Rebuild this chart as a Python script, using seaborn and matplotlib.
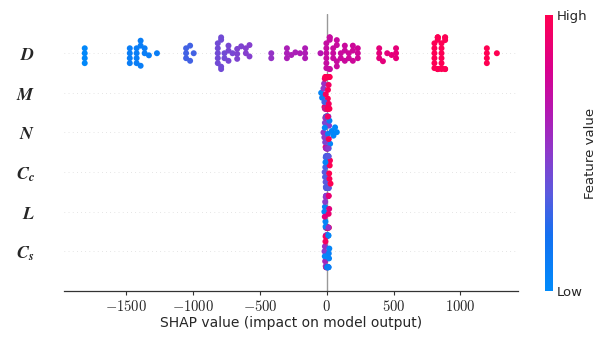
import warnings
warnings.filterwarnings("ignore")
import numpy as np
import pandas as pd
import matplotlib
matplotlib.use("Agg")
import matplotlib.pyplot as plt
from matplotlib.colors import LinearSegmentedColormap, Normalize
import matplotlib.cm as mcm
import seaborn as sns

# ---------------- data ----------------
features = ["D", "M", "N", "Cc", "L", "Cs"]
feature_labels = [r"$\mathbfit{D}$", r"$\mathbfit{M}$", r"$\mathbfit{N}$",
                  r"$\mathbfit{C}_{\mathbfit{c}}$", r"$\mathbfit{L}$", r"$\mathbfit{C}_{\mathbfit{s}}$"]
xticks = [-1500, -1000, -500, 0, 500, 1000]

# D: SHAP values of each sub-cluster, number of samples in it, normalised feature value
d_values = [-1810, -1473, -1422, -1392, -1362, -1330, -1270,
            -1052, -1022, -995,
            -815, -790, -765, -735, -705, -670, -640, -605, -578,
            -415,
            -298, -265, -235, -200, -162,
            -47,
            -3, 22, 48, 75, 105, 135, 165, 195, 232,
            392, 420, 452, 485, 518,
            805, 830, 858, 885,
            1197, 1272]
d_counts = [4, 4, 4, 3, 2, 1, 1,
            3, 2, 1,
            5, 4, 2, 3, 1, 3, 1, 2, 2,
            2,
            3, 1, 1, 1, 3,
            1,
            6, 5, 3, 4, 2, 3, 2, 3, 3,
            3, 1, 1, 1, 3,
            6, 7, 7, 5,
            4, 1]
d_feat = [0.02, 0.10, 0.10, 0.10, 0.10, 0.10, 0.10,
          0.30, 0.30, 0.30,
          0.42, 0.42, 0.42, 0.44, 0.44, 0.46, 0.46, 0.48, 0.48,
          0.53,
          0.62, 0.62, 0.62, 0.63, 0.63,
          0.66,
          0.72, 0.72, 0.73, 0.73, 0.74, 0.74, 0.75, 0.75, 0.76,
          0.86, 0.86, 0.86, 0.87, 0.87,
          0.99, 0.99, 0.99, 0.99,
          1.0, 1.0]

m_shap = [-42, -35, -25, -20, -17, -14, -12, -10, -8, -6, -5, -3, -2, -1, 0, 0, 1, 2,
          3, 5, 6, 8, 10, 12, 14, 16, 18, 20, -15, 9, -7, 4, 11, -18, 15, 22]
m_feat = [0.05, 0.10, 0.50, 0.55, 0.90, 0.95, 1.0, 0.45, 0.95, 1.0, 0.90, 0.50, 1.0, 0.95,
          0.98, 0.92, 1.0, 0.40, 0.95, 1.0, 0.90, 0.98, 0.96, 1.0, 0.94, 0.99, 0.97, 1.0,
          0.93, 0.98, 1.0, 0.96, 0.99, 0.30, 0.95, 1.0]

n_shap = [-25, -18, -14, -11, -9, -7, -5, -4, -3, -2, -1, 0, 1, 2, 3, 4, 5, 6, 8, 10,
          12, 14, 17, 20, 25, 38, 50, 62, 75, -12, 7, -6, 9, 11, 15, -15]
n_feat = [0.55, 0.50, 0.45, 0.60, 0.95, 0.50, 0.05, 0.55, 0.98, 0.45, 0.10, 0.90, 0.55,
          0.05, 0.60, 1.0, 0.08, 0.50, 0.95, 0.12, 0.55, 0.05, 0.50, 0.08, 0.05, 0.04,
          0.03, 0.02, 0.02, 0.45, 0.95, 0.60, 0.10, 0.50, 0.98, 0.05]

cc_shap = [-16, -13, -11, -9, -7, -5, -4, -3, -2, -1, 0, 1, 2, 3, 4, 5, 6, 7, 8, 9,
           10, 11, 12, 13, 15, 18, 20, 22, 24, 28, -6, -8, 14, -10]
cc_feat = [0.35, 0.33, 0.30, 0.35, 0.32, 0.36, 0.30, 0.34, 0.05, 0.33, 0.31, 0.35, 0.30,
           0.34, 0.36, 0.32, 0.30, 0.35, 0.33, 0.31, 0.34, 0.30, 0.36, 0.32, 0.35, 1.0,
           0.98, 1.0, 0.97, 1.0, 0.33, 0.31, 0.35, 0.05]

l_shap = [-18, -14, -12, -10, -8, -7, -5, -4, -3, -2, -1, 0, 1, 2, 3, 4, 5, 6, 7, 8,
          9, 10, 11, 12, 14, 16, 18, -6, -9, 13, 15, -15]
l_feat = [0.05, 0.10, 0.50, 0.05, 0.55, 0.08, 0.50, 0.45, 0.90, 0.55, 0.95, 0.50, 0.05,
          0.90, 1.0, 0.85, 0.95, 0.80, 1.0, 0.85, 0.90, 0.80, 0.95, 0.85, 0.90, 1.0, 0.85,
          0.50, 0.05, 0.55, 0.90, 0.85]

cs_shap = [-17, -14, -12, -10, -8, -6, -5, -4, -3, -2, -1, 0, 1, 2, 3, 4, 5, 6, 7, 8,
           9, 10, 12, 13, 15, 17, 19, -7, -9, 11, 14, -15]
cs_feat = [0.50, 0.55, 0.60, 0.95, 0.50, 0.55, 0.90, 0.50, 0.05, 0.55, 0.95, 0.05, 0.50,
           0.10, 0.05, 0.08, 0.05, 0.10, 0.05, 0.07, 0.05, 0.08, 0.06, 0.05, 0.08, 0.06,
           0.05, 0.50, 0.95, 0.05, 0.10, 0.05]

# ---------------- long table ----------------
frames = [pd.DataFrame({"feature": "D",
                        "shap": np.repeat(d_values, d_counts),
                        "fv": np.repeat(d_feat, d_counts)})]
for name, sv, fv in [("M", m_shap, m_feat), ("N", n_shap, n_feat), ("Cc", cc_shap, cc_feat),
                     ("L", l_shap, l_feat), ("Cs", cs_shap, cs_feat)]:
    frames.append(pd.DataFrame({"feature": name, "shap": sv, "fv": fv}))
df = pd.concat(frames, ignore_index=True)

# ---------------- style ----------------
sns.set_style("white")
plt.rcParams["font.family"] = ["DejaVu Sans"]
plt.rcParams["mathtext.fontset"] = "cm"

cmap = LinearSegmentedColormap.from_list("red_blue", [
    (0.0, "#008bfb"), (0.2, "#1470f0"), (0.35, "#5a5ade"), (0.5, "#8c3acb"),
    (0.65, "#b318b2"), (0.8, "#d8008e"), (1.0, "#ff0052")])

fig = plt.figure(figsize=(5.98, 3.38), dpi=100)
ax = fig.add_axes([64 / 598, 47 / 338, (518 - 64) / 598, (291 - 13.6) / 338])

for i in range(len(features)):
    ax.axhline(i, color="#cccccc", lw=0.5, dashes=(1, 5), zorder=-1)
ax.axvline(0, color="#999999", lw=1, zorder=-1)

sns.swarmplot(data=df, x="shap", y="feature", hue="fv", order=features,
              palette=cmap, hue_norm=(0, 1), size=3.4, linewidth=0,
              legend=False, ax=ax, orient="h", zorder=3)

ax.set_xlim(-1965, 1430)
ax.set_ylim(len(features), -1)
for s in ["left", "top", "right"]:
    ax.spines[s].set_visible(False)
ax.spines["bottom"].set_color("#333333")
ax.spines["bottom"].set_linewidth(0.9)

ax.set_xticks(xticks, labels=[f"${t}$" for t in xticks], fontsize=10.5)
ax.set_yticks(range(len(features)), labels=feature_labels, fontsize=13,
              math_fontfamily="stix")
ax.tick_params(axis="y", length=0, pad=21)
ax.tick_params(axis="x", length=3, width=0.8, color="#333333", pad=3, bottom=True)
ax.set_xlabel("SHAP value (impact on model output)", fontsize=10, labelpad=1)
ax.set_ylabel("")

cax = fig.add_axes([545 / 598, 47 / 338, 8 / 598, (291 - 15) / 338])
sm = mcm.ScalarMappable(norm=Normalize(0, 1), cmap=cmap)
cb = fig.colorbar(sm, cax=cax, ticks=[0, 1])
cb.set_ticklabels(["Low", "High"])
cb.ax.tick_params(labelsize=9.5, length=0, pad=3)
cb.outline.set_visible(False)
cb.set_label("Feature value", size=9.5, labelpad=-3)

# lay out the swarm once, then freeze it and draw the dots a bit larger so
# touching dots merge into solid blobs like in the reference
fig.canvas.draw()
for coll in ax.collections:
    if "draw" in coll.__dict__:
        del coll.__dict__["draw"]
        coll.set_sizes(coll.get_sizes() * 1.6)

fig.savefig("out.png", dpi=100)
